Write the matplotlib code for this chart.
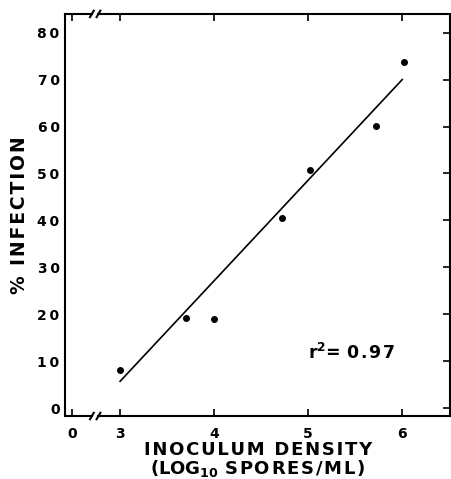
import matplotlib
matplotlib.use("Agg")
import matplotlib.pyplot as plt

# data
density = [3.0, 3.7, 4.0, 4.72, 5.02, 5.72, 6.02]
infection = [8.1, 19.2, 18.9, 40.4, 50.8, 60.2, 73.8]
fit_x = [3.0, 6.0]
fit_y = [5.7, 70.0]
xtick_pos = [2.49, 3, 4, 5, 6]
xtick_labels = ["0", "3", "4", "5", "6"]
yticks = [0, 10, 20, 30, 40, 50, 60, 70, 80]

TS = "\u2009"
HS = "\u200a"


def spaced(s, sep=TS):
    return sep.join(s)


plt.rcParams['font.family'] = ['DejaVu Sans']
plt.rcParams['font.weight'] = 'bold'

fig = plt.figure(figsize=(4.52, 4.79), dpi=100)
ax = fig.add_axes([0.144, 0.1315, 0.852, 0.8395])

ax.plot(density, infection, 'o', color='black', markersize=4)
ax.plot(fit_x, fit_y, '-', color='black', linewidth=1.2)

ax.set_xlim(2.415, 6.51)
ax.set_ylim(-1.7, 84)

ax.set_xticks(xtick_pos)
ax.set_xticklabels(xtick_labels, fontsize=10, fontweight='bold')
ax.set_yticks(yticks)
ax.set_yticklabels([spaced(str(v)) for v in yticks], fontsize=10, fontweight='bold')
ax.tick_params(direction='in', length=5, width=1.2, top=True, right=True, pad=6)
ax.tick_params(axis='x', pad=8)
ax.tick_params(axis='y', left=False, pad=4)

for s in ['left', 'right']:
    ax.spines[s].set_linewidth(1.5)
ax.spines['top'].set_visible(False)
ax.spines['bottom'].set_visible(False)

tr = ax.get_xaxis_transform()
b0, b1 = 2.70, 2.77
for yy in (0, 1):
    ax.plot([2.415, b0], [yy, yy], color='black', lw=1.5, transform=tr, clip_on=False)
    ax.plot([b1, 6.51], [yy, yy], color='black', lw=1.5, transform=tr, clip_on=False)
    for bx in (b0, b1):
        ax.plot([bx - 0.02, bx + 0.02], [yy - 0.008, yy + 0.008], color='black', lw=1.5,
                transform=tr, clip_on=False)

ax.set_ylabel(spaced("% INFECTION", HS), fontsize=13.5, fontweight='bold')
ax.yaxis.set_label_coords(-0.095, 0.5)
ax.set_xlabel(spaced("INOCULUM DENSITY", HS) + "\n(LOG$_{\\mathbf{10}}$ " + spaced("SPORES/ML)", HS),
              fontsize=13, fontweight='bold', labelpad=0, linespacing=0.9)

ax.text(0.63, 0.157, "r$^{\\mathbf{2}}$= " + spaced("0.97", HS), transform=ax.transAxes,
        fontsize=12.5, fontweight='bold', ha='left', va='center')

fig.savefig("out.png", dpi=100)
